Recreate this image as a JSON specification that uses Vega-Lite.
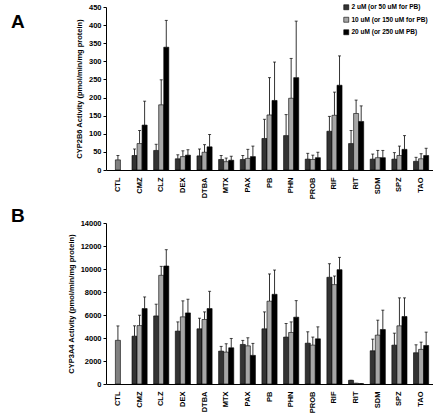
{
  "$schema": "https://vega.github.io/schema/vega-lite/v6.json",
  "padding": {"left": 11, "top": 3, "right": 0, "bottom": 0},
  "config": {
    "font": "Liberation Sans",
    "view": {"stroke": null},
    "axis": {"labelFont": "Liberation Sans", "labelFontWeight": "bold", "labelFontSize": 7.5, "labelColor": "#000", "titleFont": "Liberation Sans", "titleFontWeight": "bold", "titleFontSize": 7.5, "titleColor": "#000", "domainColor": "#000", "tickColor": "#000", "grid": false, "labelOverlap": false},
    "title": {"font": "Liberation Sans", "fontWeight": "bold", "fontSize": 19, "color": "#000"}
  },
  "datasets": {
    "A": [
      {"c": "CTL", "s": 2, "g": "Control", "v": 28, "u": 40},
      {"c": "CMZ", "s": 1, "g": "2 uM (or 50 uM for PB)", "v": 40, "u": 58},
      {"c": "CMZ", "s": 2, "g": "10 uM (or 150 uM for PB)", "v": 73, "u": 109},
      {"c": "CMZ", "s": 3, "g": "20 uM (or 250 uM PB)", "v": 124, "u": 190},
      {"c": "CLZ", "s": 1, "g": "2 uM (or 50 uM for PB)", "v": 54, "u": 71},
      {"c": "CLZ", "s": 2, "g": "10 uM (or 150 uM for PB)", "v": 180, "u": 249},
      {"c": "CLZ", "s": 3, "g": "20 uM (or 250 uM PB)", "v": 339, "u": 413},
      {"c": "DEX", "s": 1, "g": "2 uM (or 50 uM for PB)", "v": 31, "u": 42},
      {"c": "DEX", "s": 2, "g": "10 uM (or 150 uM for PB)", "v": 37, "u": 53},
      {"c": "DEX", "s": 3, "g": "20 uM (or 250 uM PB)", "v": 41, "u": 56},
      {"c": "DTBA", "s": 1, "g": "2 uM (or 50 uM for PB)", "v": 39, "u": 58},
      {"c": "DTBA", "s": 2, "g": "10 uM (or 150 uM for PB)", "v": 49, "u": 70},
      {"c": "DTBA", "s": 3, "g": "20 uM (or 250 uM PB)", "v": 64, "u": 98},
      {"c": "MTX", "s": 1, "g": "2 uM (or 50 uM for PB)", "v": 29, "u": 40},
      {"c": "MTX", "s": 2, "g": "10 uM (or 150 uM for PB)", "v": 23, "u": 33},
      {"c": "MTX", "s": 3, "g": "20 uM (or 250 uM PB)", "v": 27, "u": 38},
      {"c": "PAX", "s": 1, "g": "2 uM (or 50 uM for PB)", "v": 29, "u": 40},
      {"c": "PAX", "s": 2, "g": "10 uM (or 150 uM for PB)", "v": 32, "u": 57},
      {"c": "PAX", "s": 3, "g": "20 uM (or 250 uM PB)", "v": 37, "u": 66},
      {"c": "PB", "s": 1, "g": "2 uM (or 50 uM for PB)", "v": 87, "u": 140},
      {"c": "PB", "s": 2, "g": "10 uM (or 150 uM for PB)", "v": 152, "u": 255},
      {"c": "PB", "s": 3, "g": "20 uM (or 250 uM PB)", "v": 192, "u": 298},
      {"c": "PHN", "s": 1, "g": "2 uM (or 50 uM for PB)", "v": 95, "u": 153},
      {"c": "PHN", "s": 2, "g": "10 uM (or 150 uM for PB)", "v": 198, "u": 308},
      {"c": "PHN", "s": 3, "g": "20 uM (or 250 uM PB)", "v": 255, "u": 411},
      {"c": "PROB", "s": 1, "g": "2 uM (or 50 uM for PB)", "v": 30, "u": 46},
      {"c": "PROB", "s": 2, "g": "10 uM (or 150 uM for PB)", "v": 29, "u": 41},
      {"c": "PROB", "s": 3, "g": "20 uM (or 250 uM PB)", "v": 34, "u": 49},
      {"c": "RIF", "s": 1, "g": "2 uM (or 50 uM for PB)", "v": 107, "u": 148},
      {"c": "RIF", "s": 2, "g": "10 uM (or 150 uM for PB)", "v": 151, "u": 215},
      {"c": "RIF", "s": 3, "g": "20 uM (or 250 uM PB)", "v": 234, "u": 315},
      {"c": "RIT", "s": 1, "g": "2 uM (or 50 uM for PB)", "v": 73, "u": 109},
      {"c": "RIT", "s": 2, "g": "10 uM (or 150 uM for PB)", "v": 156, "u": 193},
      {"c": "RIT", "s": 3, "g": "20 uM (or 250 uM PB)", "v": 134, "u": 177},
      {"c": "SDM", "s": 1, "g": "2 uM (or 50 uM for PB)", "v": 30, "u": 44},
      {"c": "SDM", "s": 2, "g": "10 uM (or 150 uM for PB)", "v": 34, "u": 54},
      {"c": "SDM", "s": 3, "g": "20 uM (or 250 uM PB)", "v": 34, "u": 54},
      {"c": "SPZ", "s": 1, "g": "2 uM (or 50 uM for PB)", "v": 30, "u": 48},
      {"c": "SPZ", "s": 2, "g": "10 uM (or 150 uM for PB)", "v": 40, "u": 66},
      {"c": "SPZ", "s": 3, "g": "20 uM (or 250 uM PB)", "v": 57, "u": 95},
      {"c": "TAO", "s": 1, "g": "2 uM (or 50 uM for PB)", "v": 24, "u": 35},
      {"c": "TAO", "s": 2, "g": "10 uM (or 150 uM for PB)", "v": 31, "u": 45},
      {"c": "TAO", "s": 3, "g": "20 uM (or 250 uM PB)", "v": 40, "u": 60}
    ],
    "B": [
      {"c": "CTL", "s": 2, "g": "Control", "v": 3800, "u": 5050},
      {"c": "CMZ", "s": 1, "g": "2 uM (or 50 uM for PB)", "v": 4160, "u": 5060},
      {"c": "CMZ", "s": 2, "g": "10 uM (or 150 uM for PB)", "v": 5080, "u": 5980},
      {"c": "CMZ", "s": 3, "g": "20 uM (or 250 uM PB)", "v": 6560, "u": 7570},
      {"c": "CLZ", "s": 1, "g": "2 uM (or 50 uM for PB)", "v": 5920, "u": 6940},
      {"c": "CLZ", "s": 2, "g": "10 uM (or 150 uM for PB)", "v": 9450, "u": 10230},
      {"c": "CLZ", "s": 3, "g": "20 uM (or 250 uM PB)", "v": 10260, "u": 11680},
      {"c": "DEX", "s": 1, "g": "2 uM (or 50 uM for PB)", "v": 4600, "u": 5400},
      {"c": "DEX", "s": 2, "g": "10 uM (or 150 uM for PB)", "v": 5840, "u": 7230},
      {"c": "DEX", "s": 3, "g": "20 uM (or 250 uM PB)", "v": 6180, "u": 7370},
      {"c": "DTBA", "s": 1, "g": "2 uM (or 50 uM for PB)", "v": 4800, "u": 5720},
      {"c": "DTBA", "s": 2, "g": "10 uM (or 150 uM for PB)", "v": 5610, "u": 6270},
      {"c": "DTBA", "s": 3, "g": "20 uM (or 250 uM PB)", "v": 6560, "u": 8060},
      {"c": "MTX", "s": 1, "g": "2 uM (or 50 uM for PB)", "v": 2860, "u": 3270},
      {"c": "MTX", "s": 2, "g": "10 uM (or 150 uM for PB)", "v": 2770, "u": 3500},
      {"c": "MTX", "s": 3, "g": "20 uM (or 250 uM PB)", "v": 3150, "u": 3960},
      {"c": "PAX", "s": 1, "g": "2 uM (or 50 uM for PB)", "v": 3440, "u": 3790},
      {"c": "PAX", "s": 2, "g": "10 uM (or 150 uM for PB)", "v": 3320, "u": 4020},
      {"c": "PAX", "s": 3, "g": "20 uM (or 250 uM PB)", "v": 2490, "u": 3530},
      {"c": "PB", "s": 1, "g": "2 uM (or 50 uM for PB)", "v": 4800, "u": 6270},
      {"c": "PB", "s": 2, "g": "10 uM (or 150 uM for PB)", "v": 7200, "u": 9570},
      {"c": "PB", "s": 3, "g": "20 uM (or 250 uM PB)", "v": 7800, "u": 9910},
      {"c": "PHN", "s": 1, "g": "2 uM (or 50 uM for PB)", "v": 4080, "u": 5260},
      {"c": "PHN", "s": 2, "g": "10 uM (or 150 uM for PB)", "v": 4480, "u": 5400},
      {"c": "PHN", "s": 3, "g": "20 uM (or 250 uM PB)", "v": 5810, "u": 7250},
      {"c": "PROB", "s": 1, "g": "2 uM (or 50 uM for PB)", "v": 3550, "u": 4540},
      {"c": "PROB", "s": 2, "g": "10 uM (or 150 uM for PB)", "v": 3380, "u": 4080},
      {"c": "PROB", "s": 3, "g": "20 uM (or 250 uM PB)", "v": 3930, "u": 4970},
      {"c": "RIF", "s": 1, "g": "2 uM (or 50 uM for PB)", "v": 9280, "u": 10460},
      {"c": "RIF", "s": 2, "g": "10 uM (or 150 uM for PB)", "v": 8640, "u": 9390},
      {"c": "RIF", "s": 3, "g": "20 uM (or 250 uM PB)", "v": 9940, "u": 11010},
      {"c": "RIT", "s": 1, "g": "2 uM (or 50 uM for PB)", "v": 320, "u": 320},
      {"c": "RIT", "s": 2, "g": "10 uM (or 150 uM for PB)", "v": 60, "u": 60},
      {"c": "RIT", "s": 3, "g": "20 uM (or 250 uM PB)", "v": 20, "u": 20},
      {"c": "SDM", "s": 1, "g": "2 uM (or 50 uM for PB)", "v": 2890, "u": 3900},
      {"c": "SDM", "s": 2, "g": "10 uM (or 150 uM for PB)", "v": 4250, "u": 5550},
      {"c": "SDM", "s": 3, "g": "20 uM (or 250 uM PB)", "v": 4740, "u": 6420},
      {"c": "SPZ", "s": 1, "g": "2 uM (or 50 uM for PB)", "v": 3380, "u": 4420},
      {"c": "SPZ", "s": 2, "g": "10 uM (or 150 uM for PB)", "v": 5060, "u": 7490},
      {"c": "SPZ", "s": 3, "g": "20 uM (or 250 uM PB)", "v": 5870, "u": 7490},
      {"c": "TAO", "s": 1, "g": "2 uM (or 50 uM for PB)", "v": 2720, "u": 3410},
      {"c": "TAO", "s": 2, "g": "10 uM (or 150 uM for PB)", "v": 3010, "u": 3640},
      {"c": "TAO", "s": 3, "g": "20 uM (or 250 uM PB)", "v": 3350, "u": 4510}
    ]
  },
  "resolve": {"scale": {"color": "independent"}},
  "spacing": 8,
  "vconcat": [
    {
      "data": {"name": "A"},
      "width": 327,
      "height": 163,
      "title": {"text": "A", "anchor": "start", "frame": "group", "dx": -95, "dy": 33},
      "encoding": {
        "x": {"field": "c", "type": "nominal", "sort": null, "scale": {"paddingInner": 0.3, "paddingOuter": 0.2}, "axis": {"title": null, "labelAngle": -90, "ticks": false, "labelPadding": 7, "labelFontSize": 7.5, "labelOverlap": false}},
        "xOffset": {"field": "s", "type": "ordinal", "scale": {"domain": [1, 2, 3], "paddingInner": 0}}
      },
      "layer": [
        {
          "mark": {"type": "rule", "color": "#000", "strokeWidth": 0.8},
          "encoding": {"y": {"field": "v", "type": "quantitative", "scale": {"domain": [0, 450]}, "axis": {"title": "CYP2B6 Activity (pmol/min/mg protein)", "values": [0, 50, 100, 150, 200, 250, 300, 350, 400, 450], "format": "d", "labelOverlap": false, "tickSize": 3, "labelPadding": 2, "titlePadding": 5}}, "y2": {"field": "u"}}
        },
        {
          "mark": {"type": "tick", "color": "#000", "size": 3, "thickness": 1},
          "encoding": {"y": {"field": "u", "type": "quantitative", "scale": {"domain": [0, 450]}, "axis": {"title": "CYP2B6 Activity (pmol/min/mg protein)", "values": [0, 50, 100, 150, 200, 250, 300, 350, 400, 450], "format": "d", "labelOverlap": false, "tickSize": 3, "labelPadding": 2, "titlePadding": 5}}}
        },
        {
          "mark": {"type": "bar", "stroke": "#000", "strokeWidth": 0.6},
          "encoding": {
            "y": {"field": "v", "type": "quantitative", "scale": {"domain": [0, 450]}, "axis": {"title": "CYP2B6 Activity (pmol/min/mg protein)", "values": [0, 50, 100, 150, 200, 250, 300, 350, 400, 450], "format": "d", "labelOverlap": false, "tickSize": 3, "labelPadding": 2, "titlePadding": 5}},
            "color": {"field": "g", "type": "nominal", "scale": {"domain": ["2 uM (or 50 uM for PB)", "10 uM (or 150 uM for PB)", "20 uM (or 250 uM PB)", "Control"], "range": ["#333333", "#a6a6a6", "#000000", "#808080"]},
              "legend": {"title": null, "values": ["2 uM (or 50 uM for PB)", "10 uM (or 150 uM for PB)", "20 uM (or 250 uM PB)"], "orient": "none", "legendX": 237, "legendY": -3, "symbolType": "square", "symbolSize": 25, "symbolStrokeColor": "#000", "symbolStrokeWidth": 0.6, "labelFont": "Liberation Sans", "labelFontWeight": "bold", "labelFontSize": 6.5, "labelColor": "#000", "rowPadding": 4.5, "labelOffset": 2}}
          }
        }
      ]
    },
    {
      "data": {"name": "B"},
      "width": 327,
      "height": 161,
      "title": {"text": "B", "anchor": "start", "frame": "group", "dx": -95, "offset": -7},
      "encoding": {
        "x": {"field": "c", "type": "nominal", "sort": null, "scale": {"paddingInner": 0.3, "paddingOuter": 0.2}, "axis": {"title": null, "labelAngle": -90, "ticks": false, "labelPadding": 7, "labelFontSize": 7.5, "labelOverlap": false}},
        "xOffset": {"field": "s", "type": "ordinal", "scale": {"domain": [1, 2, 3], "paddingInner": 0}}
      },
      "layer": [
        {
          "mark": {"type": "rule", "color": "#000", "strokeWidth": 0.8},
          "encoding": {"y": {"field": "v", "type": "quantitative", "scale": {"domain": [0, 14000]}, "axis": {"title": "CYP3A4 Activity (pmol/min/mg protein)", "values": [0, 2000, 4000, 6000, 8000, 10000, 12000, 14000], "format": "d", "labelOverlap": false, "tickSize": 3, "labelPadding": 2, "titlePadding": 5}}, "y2": {"field": "u"}}
        },
        {
          "mark": {"type": "tick", "color": "#000", "size": 3, "thickness": 1},
          "encoding": {"y": {"field": "u", "type": "quantitative", "scale": {"domain": [0, 14000]}, "axis": {"title": "CYP3A4 Activity (pmol/min/mg protein)", "values": [0, 2000, 4000, 6000, 8000, 10000, 12000, 14000], "format": "d", "labelOverlap": false, "tickSize": 3, "labelPadding": 2, "titlePadding": 5}}}
        },
        {
          "mark": {"type": "bar", "stroke": "#000", "strokeWidth": 0.6},
          "encoding": {
            "y": {"field": "v", "type": "quantitative", "scale": {"domain": [0, 14000]}, "axis": {"title": "CYP3A4 Activity (pmol/min/mg protein)", "values": [0, 2000, 4000, 6000, 8000, 10000, 12000, 14000], "format": "d", "labelOverlap": false, "tickSize": 3, "labelPadding": 2, "titlePadding": 5}},
            "color": {"field": "g", "type": "nominal", "scale": {"domain": ["2 uM (or 50 uM for PB)", "10 uM (or 150 uM for PB)", "20 uM (or 250 uM PB)", "Control"], "range": ["#333333", "#a6a6a6", "#000000", "#808080"]}, "legend": null}
          }
        }
      ]
    }
  ]
}
